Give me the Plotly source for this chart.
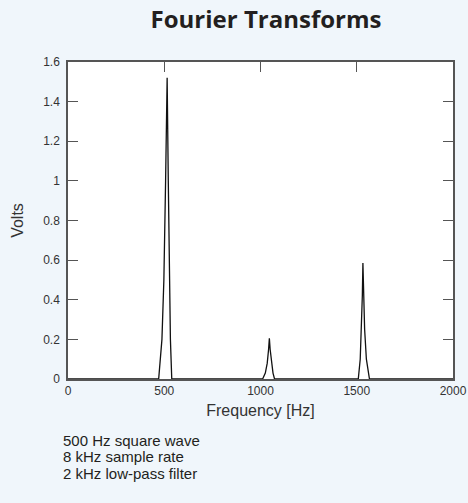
import plotly.graph_objects as go

# Spectrum (Hz, Volts)
peak1_freq = [471, 488, 498, 507, 515, 521, 527, 532, 539]
peak1_volts = [0, 0.2, 0.5, 1.0, 1.52, 1.0, 0.5, 0.2, 0]
peak2_freq = [1011, 1025, 1035, 1042, 1046, 1050, 1057, 1065, 1073]
peak2_volts = [0, 0.03, 0.08, 0.15, 0.205, 0.15, 0.08, 0.03, 0]
peak3_freq = [1508, 1518, 1525, 1529, 1532, 1536, 1541, 1550, 1566]
peak3_volts = [0, 0.1, 0.25, 0.42, 0.585, 0.42, 0.25, 0.1, 0]

x_ticks = [0, 500, 1000, 1500, 2000]
y_ticks = [0, 0.2, 0.4, 0.6, 0.8, 1, 1.2, 1.4, 1.6]
notes = ["500 Hz square wave", "8 kHz sample rate", "2 kHz low-pass filter"]

freq = [0] + peak1_freq + peak2_freq + peak3_freq + [2000]
volts = [0] + peak1_volts + peak2_volts + peak3_volts + [0]

BG = "#F0F6FB"
AX = "#555555"
TXT = "#231F20"

fig = go.Figure()
fig.add_trace(go.Scatter(x=freq, y=volts, mode="lines",
                         line=dict(color="#111111", width=1.3),
                         hoverinfo="skip", showlegend=False))
# dummy trace on top axis
fig.add_trace(go.Scatter(x=[None], y=[None], xaxis="x2", showlegend=False))

fig.update_layout(
    width=468, height=503,
    paper_bgcolor=BG, plot_bgcolor="white",
    margin=dict(l=68, r=15, t=62, b=124),
    title=dict(text="<b>Fourier Transforms</b>", xref="container", x=266 / 468,
               xanchor="center", yref="container", y=1 - 20 / 503, yanchor="middle",
               font=dict(family="Open Sans", size=24, color=TXT)),
    font=dict(family="Liberation Sans, Arial", color=TXT),
    xaxis=dict(range=[0, 2000], tickvals=x_ticks, ticks="", automargin=False,
               showline=True, linecolor=AX, linewidth=1.5,
               showgrid=False, zeroline=False,
               tickfont=dict(size=12, color="#333333"),
               title=dict(text="Frequency [Hz]", font=dict(size=16, color="#333333"),
                          standoff=8)),
    xaxis2=dict(range=[0, 2000], overlaying="x", side="top", automargin=False,
                tickvals=x_ticks[1:-1], ticks="inside", ticklen=10,
                tickcolor=AX, tickwidth=1.2, showticklabels=False,
                showline=True, linecolor=AX, linewidth=1.5,
                showgrid=False, zeroline=False),
    yaxis=dict(range=[0, 1.6], tickvals=y_ticks, ticks="inside", ticklen=10,
               tickcolor=AX, tickwidth=1.2, mirror="ticks", automargin=False,
               showline=True, linecolor=AX, linewidth=1.5,
               showgrid=False, zeroline=False, ticklabelstandoff=4,
               tickfont=dict(size=12, color="#333333"),
               title=dict(text="Volts", font=dict(size=16, color="#333333"),
                          standoff=16)),
)

for i, line in enumerate(notes):
    fig.add_annotation(text=line, xref="paper", yref="paper",
                       x=-6 / 385, xanchor="left",
                       y=(379 - 440 - i * 16.5) / 317, yanchor="middle",
                       showarrow=False, borderpad=0,
                       font=dict(family="Liberation Sans, Arial", size=15, color=TXT))

fig.write_html(
    "out.html",
    config={"displayModeBar": False},
    post_script="document.body.style.margin='0';document.body.style.background='%s';" % BG,
)
